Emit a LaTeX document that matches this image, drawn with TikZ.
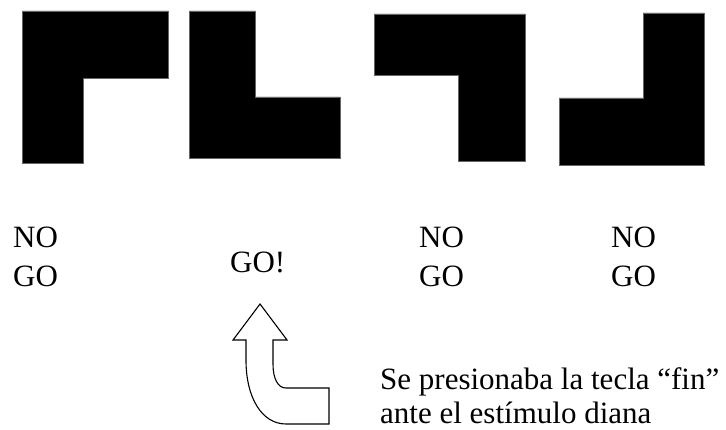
\documentclass[tikz,border=0pt]{standalone}
\usepackage{fontspec}
\setmainfont{Liberation Serif}
\begin{document}
\begin{tikzpicture}[x=1pt,y=-1pt,
  shapefill/.style={fill=black,draw=black!60,line width=0.4pt},
  lbl/.style={anchor=base west,inner sep=0pt,font=\fontsize{31}{36}\selectfont},
  note/.style={anchor=base west,inner sep=0pt,font=\fontsize{31}{36}\selectfont},
  arrowshape/.style={draw=black,fill=white,line width=1.1pt,line join=miter}]
\useasboundingbox (0,0) rectangle (726,430);
% stimuli
\fill[shapefill] (22,11) -- (168,11) -- (168,78) -- (83,78) -- (83,163) -- (22,163) -- cycle;
\fill[shapefill] (189,11) -- (255,11) -- (255,97) -- (340,97) -- (340,158) -- (189,158) -- cycle;
\fill[shapefill] (374,14) -- (525,14) -- (525,161) -- (458,161) -- (458,75) -- (374,75) -- cycle;
\fill[shapefill] (643,13) -- (704,13) -- (704,165) -- (559,165) -- (559,98) -- (643,98) -- cycle;
% labels
\node[lbl] (no1) at (13,248) {NO};
\node[lbl] (go1) at (13,287) {GO};
\node[lbl] (go2) at (230,273) {GO!};
\node[lbl] (no3) at (419,248) {NO};
\node[lbl] (go3) at (419,287) {GO};
\node[lbl] (no4) at (611,248) {NO};
\node[lbl] (go4) at (611,287) {GO};
% bent arrow
\draw[arrowshape] (260,304) -- (287,340) -- (273,340) -- (273,364)
  .. controls (273,379) and (278,388) .. (286,388) -- (329,388) -- (329,424) -- (286,424)
  .. controls (262,424) and (246,398) .. (246,360) -- (246,340) -- (233,340) -- cycle;
% note
\node[note] (n1) at (380,390) {Se presionaba la tecla “fin”};
\node[note] (n2) at (380,424) {ante el estímulo diana};
\end{tikzpicture}
\end{document}
